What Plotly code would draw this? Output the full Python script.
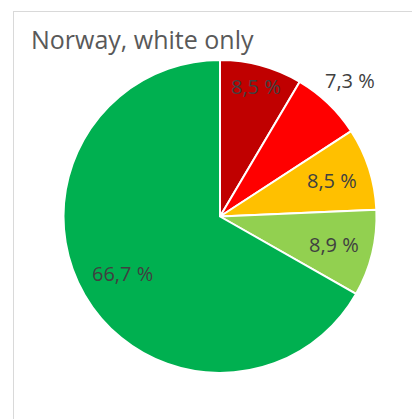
import math
import plotly.graph_objects as go

# Share of respondents by category, clockwise from 12 o'clock
categories = ["Very high", "High", "Moderate", "Low", "Very low"]
shares = [8.5, 7.3, 8.5, 8.9, 66.7]
share_labels = ["8,5 %", "7,3 %", "8,5 %", "8,9 %", "66,7 %"]
slice_colors = ["#C00000", "#FF0000", "#FFC000", "#92D050", "#00B050"]

W, H = 412, 419

# Pie placement (pixels) and where each data label sits along its slice's
# mid-angle, as a fraction of the radius (>1 means outside the pie).
PIE_LEFT, PIE_RIGHT, PIE_TOP, PIE_BOTTOM = 63, 377, 60, 373
LABEL_RADIUS = [0.86, 1.2, 0.75, 0.75, 0.72]

fig = go.Figure(
    go.Pie(
        labels=categories,
        values=shares,
        text=share_labels,
        textinfo="none",
        sort=False,
        direction="clockwise",
        rotation=0,
        marker=dict(colors=slice_colors, line=dict(color="white", width=2)),
        domain=dict(x=[PIE_LEFT / W, PIE_RIGHT / W],
                    y=[1 - PIE_BOTTOM / H, 1 - PIE_TOP / H]),
        showlegend=False,
        hoverinfo="label+text",
    )
)

# Data labels placed at each slice's mid-angle, derived from the shares
cx = (PIE_LEFT + PIE_RIGHT) / 2
cy = (PIE_TOP + PIE_BOTTOM) / 2
radius = min(PIE_RIGHT - PIE_LEFT, PIE_BOTTOM - PIE_TOP) / 2
total = sum(shares)
annotations = []
cum = 0.0
for value, label, rf in zip(shares, share_labels, LABEL_RADIUS):
    mid = (cum + value / 2) / total * 2 * math.pi
    cum += value
    px = cx + math.sin(mid) * rf * radius
    py = cy - math.cos(mid) * rf * radius
    annotations.append(dict(
        x=px / W, y=1 - py / H, xref="paper", yref="paper",
        text=label, showarrow=False, xanchor="center", yanchor="middle",
        font=dict(family="Open Sans", size=20, color="#404040"),
    ))

fig.update_layout(
    width=W,
    height=H,
    margin=dict(l=0, r=0, t=0, b=0),
    paper_bgcolor="white",
    plot_bgcolor="white",
    title=dict(
        text="Norway, white only",
        x=31 / W,
        xanchor="left",
        y=1 - 31 / H,
        yanchor="top",
        font=dict(family="Open Sans", size=25, color="#595959"),
    ),
    annotations=annotations,
    shapes=[
        dict(type="line", xref="paper", yref="paper",
             x0=13 / W, x1=1, y0=1 - 11.5 / H, y1=1 - 11.5 / H,
             line=dict(color="#D9D9D9", width=1)),
        dict(type="line", xref="paper", yref="paper",
             x0=13.5 / W, x1=13.5 / W, y0=0, y1=1 - 11 / H,
             line=dict(color="#D9D9D9", width=1)),
    ],
)

fig.write_html("out.html")
